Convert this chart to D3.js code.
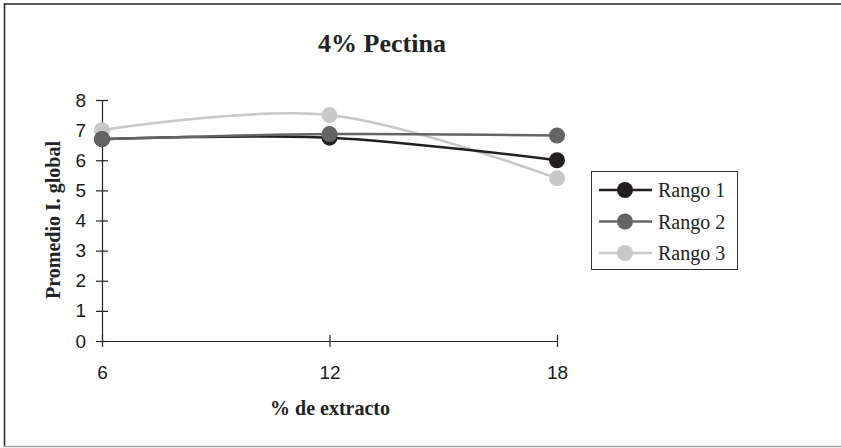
<!DOCTYPE html>
<html>
<head>
<meta charset="utf-8">
<script src="https://cdn.jsdelivr.net/npm/d3@7"></script>
<style>
  body { margin: 0; background: #fff; }
  svg { display: block; }
</style>
</head>
<body>
<div id="chart"></div>
<script>
// data
const xValues = [6, 12, 18];
const seriesNames = ['Rango 1', 'Rango 2', 'Rango 3'];
const rango1 = [6.7, 6.75, 6.0];
const rango2 = [6.7, 6.87, 6.82];
const rango3 = [7.0, 7.5, 5.4];
const yTicks = [0, 1, 2, 3, 4, 5, 6, 7, 8];

const seriesColors = ['#231f20', '#646464', '#c8c8c8'];
const allSeries = [rango1, rango2, rango3].map((vals, i) => ({
    name: seriesNames[i],
    color: seriesColors[i],
    points: vals.map((v, j) => ({ x: xValues[j], y: v })),
}));

const W = 841, H = 448;
const svg = d3.select('#chart').append('svg')
    .attr('width', W)
    .attr('height', H);

// outer frame: top / left dark, bottom light, no right side
svg.append('line').attr('x1', 4).attr('x2', 841).attr('y1', 4).attr('y2', 4)
    .attr('stroke', '#5a5a5a').attr('stroke-width', 2);
svg.append('line').attr('x1', 4.5).attr('x2', 4.5).attr('y1', 3).attr('y2', 447)
    .attr('stroke', '#222').attr('stroke-width', 1.5);
svg.append('line').attr('x1', 4).attr('x2', 841).attr('y1', 446.5).attr('y2', 446.5)
    .attr('stroke', '#aaa').attr('stroke-width', 1.5);

const xScale = d3.scaleLinear().domain([6, 18]).range([102, 557]);
const yScale = d3.scaleLinear().domain([0, 8]).range([341, 100]);

// title
svg.append('text')
    .attr('x', 382).attr('y', 52)
    .attr('text-anchor', 'middle')
    .style('font-family', '"Liberation Serif", "Times New Roman", serif')
    .style('font-weight', 'bold')
    .style('font-size', '26px')
    .attr('fill', '#222')
    .text('4% Pectina');

// axes
const yAxis = d3.axisLeft(yScale).tickValues(yTicks).tickSizeInner(6).tickSizeOuter(0).tickPadding(10);
const gy = svg.append('g').attr('transform', `translate(${xScale(6)},0)`).call(yAxis);
gy.selectAll('.tick line').attr('x2', 6).attr('x1', -6);

const xAxis = d3.axisBottom(xScale).tickValues(xValues).tickSizeInner(6).tickSizeOuter(0).tickPadding(18.5);
const gx = svg.append('g').attr('transform', `translate(0,${yScale(0)})`).call(xAxis);
gx.selectAll('.tick line').attr('y1', -6).attr('y2', 6);

[gx, gy].forEach(g => {
    g.attr('font-size', 19).attr('font-family', '"Liberation Sans", Arial, sans-serif');
    g.select('.domain').attr('stroke', '#222').attr('stroke-width', 1.2);
    g.selectAll('.tick line').attr('stroke', '#222').attr('stroke-width', 1.2);
    g.selectAll('.tick text')
        .style('font-family', '"Liberation Sans", Arial, sans-serif')
        .style('font-size', '19px')
        .attr('fill', '#1a1a1a');
});

// axis labels
svg.append('text')
    .attr('x', 330).attr('y', 415)
    .attr('text-anchor', 'middle')
    .style('font-family', '"Liberation Serif", "Times New Roman", serif')
    .style('font-weight', 'bold')
    .style('font-size', '20px')
    .attr('fill', '#222')
    .text('% de extracto');

svg.append('text')
    .attr('transform', 'translate(60,220) rotate(-90)')
    .attr('text-anchor', 'middle')
    .style('font-family', '"Liberation Serif", "Times New Roman", serif')
    .style('font-weight', 'bold')
    .style('font-size', '20px')
    .attr('fill', '#222')
    .text('Promedio I. global');

// smoothed lines (Excel-like)
const line = d3.line()
    .x(d => xScale(d.x))
    .y(d => yScale(d.y))
    .curve(d3.curveCardinal.tension(0));

const order = [2, 0, 1];
order.forEach(i => {
    const s = allSeries[i];
    svg.append('path')
        .datum(s.points)
        .attr('d', line)
        .attr('fill', 'none')
        .attr('stroke', s.color)
        .attr('stroke-width', 2.5);
});
order.forEach(i => {
    const s = allSeries[i];
    svg.selectAll(null)
        .data(s.points)
        .enter().append('circle')
        .attr('cx', d => xScale(d.x))
        .attr('cy', d => yScale(d.y))
        .attr('r', 8)
        .attr('fill', s.color);
});

// legend
const legend = svg.append('g');
legend.append('rect')
    .attr('x', 591.5).attr('y', 171.5)
    .attr('width', 146).attr('height', 98)
    .attr('fill', '#fff')
    .attr('stroke', '#333').attr('stroke-width', 1);

const legendY = d3.scalePoint().domain(seriesNames).range([190, 253]);
allSeries.forEach(s => {
    const y = legendY(s.name);
    legend.append('line')
        .attr('x1', 599).attr('x2', 652).attr('y1', y).attr('y2', y)
        .attr('stroke', s.color).attr('stroke-width', 2.5);
    legend.append('circle')
        .attr('cx', 625).attr('cy', y).attr('r', 8)
        .attr('fill', s.color);
    legend.append('text')
        .attr('x', 658).attr('y', y + 7)
        .style('font-family', '"Liberation Serif", "Times New Roman", serif')
        .style('font-size', '20px')
        .attr('fill', '#222')
        .text(s.name);
});
</script>
</body>
</html>
